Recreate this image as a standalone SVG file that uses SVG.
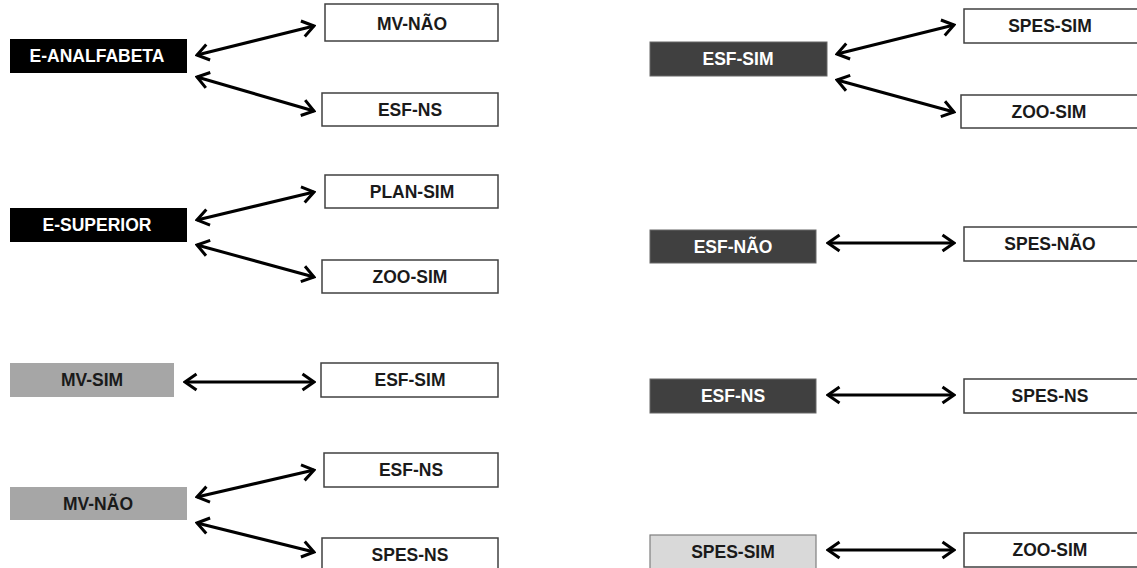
<svg xmlns="http://www.w3.org/2000/svg" width="1137" height="568" viewBox="0 0 1137 568">
<style>
text{font-family:"Liberation Sans",Arial,sans-serif;font-weight:bold;font-size:17.5px;text-anchor:middle}
.blk{fill:#000}
.mid{fill:#a6a6a6}
.drk{fill:#404040;stroke:#666;stroke-width:1}
.lgt{fill:#d9d9d9;stroke:#7f7f7f;stroke-width:1.2}
.wht{fill:#fff;stroke:#404040;stroke-width:1.5}
.tw{fill:#fff}
.tk{fill:#1a1a1a}
.conn line{stroke:#000;stroke-width:3;marker-start:url(#ah);marker-end:url(#ah)}
</style>
<defs>
<marker id="ah" viewBox="0 0 16 20" refX="14" refY="10" markerWidth="16" markerHeight="20" markerUnits="userSpaceOnUse" orient="auto-start-reverse">
<path d="M2.5,2 L14,10 L2.5,18" fill="none" stroke="#000" stroke-width="3"/>
</marker>
</defs>
<rect width="1137" height="568" fill="#fff"/>
<g id="n-e-analfabeta"><rect class="blk" x="10" y="39" width="177" height="34"/><text class="tw" x="97" y="62">E-ANALFABETA</text></g>
<g id="n-e-superior"><rect class="blk" x="10" y="208" width="177" height="34"/><text class="tw" x="97" y="231">E-SUPERIOR</text></g>
<g id="n-mv-sim"><rect class="mid" x="10" y="363" width="164" height="34"/><text class="tk" x="92" y="386">MV-SIM</text></g>
<g id="n-mv-nao"><rect class="mid" x="10" y="487" width="177" height="33"/><text class="tk" x="98" y="510">MV-NÃO</text></g>
<g id="n-mv-nao-r"><rect class="wht" x="325" y="4" width="173" height="37"/><text class="tk" x="412" y="30">MV-NÃO</text></g>
<g id="n-esf-ns-1"><rect class="wht" x="322" y="93" width="176" height="33"/><text class="tk" x="410" y="116">ESF-NS</text></g>
<g id="n-plan-sim"><rect class="wht" x="325" y="175" width="173" height="33"/><text class="tk" x="412" y="198">PLAN-SIM</text></g>
<g id="n-zoo-sim-1"><rect class="wht" x="322" y="260" width="176" height="33"/><text class="tk" x="410" y="283">ZOO-SIM</text></g>
<g id="n-esf-sim-1"><rect class="wht" x="321" y="363" width="177" height="34"/><text class="tk" x="410" y="386">ESF-SIM</text></g>
<g id="n-esf-ns-2"><rect class="wht" x="324" y="453" width="174" height="34"/><text class="tk" x="411" y="476">ESF-NS</text></g>
<g id="n-spes-ns-1"><rect class="wht" x="322" y="538" width="176" height="34"/><text class="tk" x="410" y="561">SPES-NS</text></g>
<g id="n-esf-sim"><rect class="drk" x="650" y="42" width="177" height="34"/><text class="tw" x="738" y="65">ESF-SIM</text></g>
<g id="n-esf-nao"><rect class="drk" x="650" y="230" width="166" height="33"/><text class="tw" x="733" y="253">ESF-NÃO</text></g>
<g id="n-esf-ns"><rect class="drk" x="650" y="379" width="166" height="34"/><text class="tw" x="733" y="402">ESF-NS</text></g>
<g id="n-spes-sim"><rect class="lgt" x="650" y="535" width="166" height="36"/><text class="tk" x="733" y="558">SPES-SIM</text></g>
<g id="n-spes-sim-r"><rect class="wht" x="964" y="9" width="175" height="34"/><text class="tk" x="1050" y="32">SPES-SIM</text></g>
<g id="n-zoo-sim-2"><rect class="wht" x="961" y="95" width="177" height="33"/><text class="tk" x="1049" y="118">ZOO-SIM</text></g>
<g id="n-spes-nao"><rect class="wht" x="964" y="227" width="175" height="34"/><text class="tk" x="1050" y="250">SPES-NÃO</text></g>
<g id="n-spes-ns-2"><rect class="wht" x="964" y="379" width="175" height="34"/><text class="tk" x="1050" y="402">SPES-NS</text></g>
<g id="n-zoo-sim-3"><rect class="wht" x="964" y="533" width="175" height="34"/><text class="tk" x="1050" y="556">ZOO-SIM</text></g>
<g id="connectors" class="conn">
<line x1="197" y1="55" x2="314" y2="26"/>
<line x1="197" y1="77" x2="314" y2="111"/>
<line x1="197" y1="220" x2="314" y2="192"/>
<line x1="197" y1="245" x2="314" y2="277"/>
<line x1="185" y1="382" x2="314" y2="382"/>
<line x1="197" y1="497" x2="314" y2="470"/>
<line x1="197" y1="523" x2="314" y2="552"/>
<line x1="837" y1="54" x2="954" y2="25"/>
<line x1="837" y1="80" x2="954" y2="112"/>
<line x1="828" y1="243" x2="954" y2="243"/>
<line x1="828" y1="395" x2="954" y2="395"/>
<line x1="828" y1="550" x2="954" y2="550"/>
</g>
</svg>
